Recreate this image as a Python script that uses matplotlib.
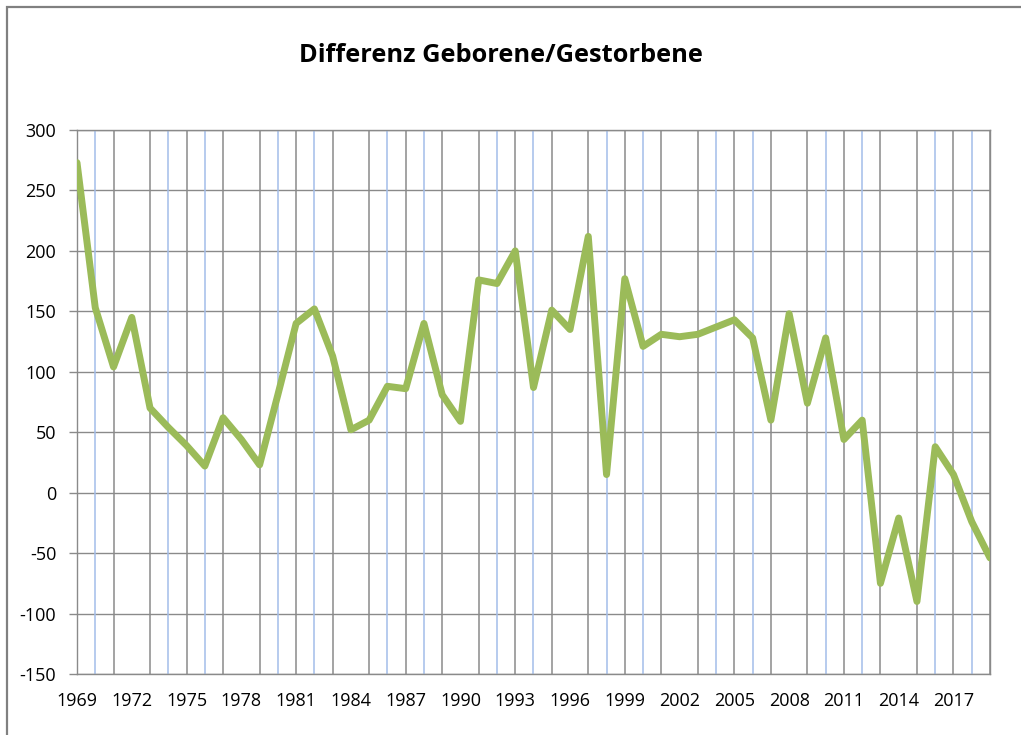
import matplotlib
matplotlib.use("Agg")
import matplotlib.pyplot as plt
from matplotlib.patches import Rectangle

YEARS = list(range(1969, 2020))
DIFFERENZ = [
    273, 153, 104, 145, 70, 54, 39, 22, 62, 44,
    23, 81, 140, 152, 113, 52, 60, 88, 86, 140,
    81, 59, 176, 173, 200, 87, 151, 135, 212, 15,
    177, 121, 131, 129, 131, 137, 143, 128, 60, 148,
    74, 128, 44, 60, -75, -21, -90, 38, 15, -24,
    -54,
]
LABEL_YEARS = list(range(1969, 2018, 3))
Y_TICKS = list(range(-150, 301, 50))
TITLE = "Differenz Geborene/Gestorbene"

W, H, DPI = 1021, 735, 100
LINE_GREEN = "#9bbb59"
GRID_GRAY = "#8a8a8a"
GRID_BLUE = "#a3bdea"

plt.rcParams["font.family"] = ["Open Sans", "DejaVu Sans"]
plt.rcParams["axes.unicode_minus"] = False

fig = plt.figure(figsize=(W / DPI, H / DPI), dpi=DPI)
fig.patch.set_facecolor("white")
fig.patches.append(Rectangle((7 / W, -0.05), 1.1, 1.05 - 7 / H,
                             transform=fig.transFigure, fill=False,
                             edgecolor="#808080", linewidth=1.6))

ax = fig.add_axes([77 / W, 1 - 674 / H, (990 - 77) / W, (674 - 130) / H])

# vertical grid, mimicking the alternating gray/blue pattern of the source
for i, yr in enumerate(YEARS):
    k = i % 6
    if k == 3:
        continue
    col = GRID_BLUE if k in (1, 5) else GRID_GRAY
    ax.axvline(yr, color=col, linewidth=1.1, zorder=1)

ax.plot(YEARS, DIFFERENZ, color=LINE_GREEN, linewidth=5.0,
        solid_joinstyle="round", solid_capstyle="round", zorder=3)

ax.set_xlim(YEARS[0], YEARS[-1])
ax.set_ylim(-150, 300)
ax.set_yticks(Y_TICKS)
ax.set_xticks(LABEL_YEARS)
ax.set_xticklabels([str(y) for y in LABEL_YEARS])
ax.yaxis.grid(True, color=GRID_GRAY, linewidth=1.0)
ax.set_axisbelow(True)

ax.tick_params(axis="x", length=0, pad=13, labelsize=13, colors="#000000")
ax.tick_params(axis="y", length=6, width=1.0, color=GRID_GRAY, pad=9,
               labelsize=13, labelcolor="#000000")
for side in ("top", "right", "left", "bottom"):
    ax.spines[side].set_color(GRID_GRAY)
    ax.spines[side].set_linewidth(1.0)

fig.text(501 / W, 1 - 55 / H, TITLE, ha="center", va="center",
         fontsize=18.3, fontweight="bold", color="#000000")

fig.savefig("out.png", dpi=DPI)
